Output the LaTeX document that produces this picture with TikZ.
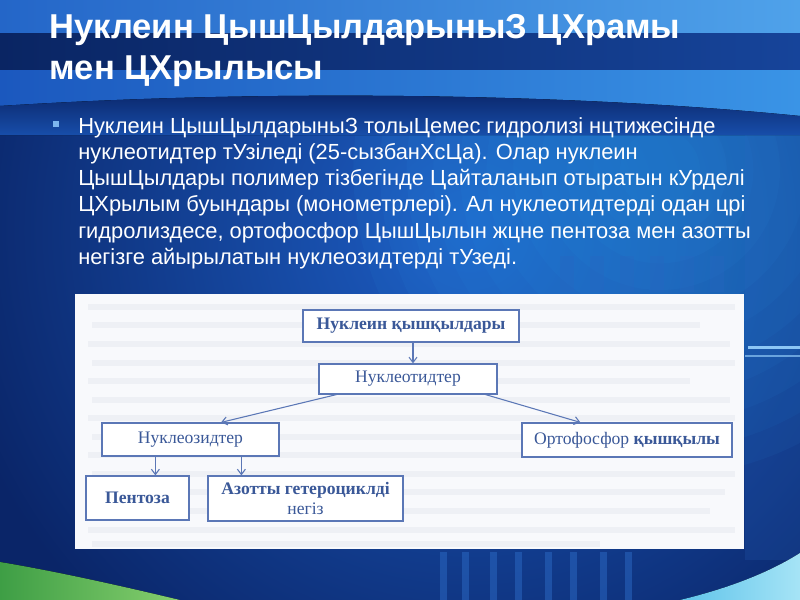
\documentclass[tikz,border=0pt]{standalone}
\usepackage{fontspec}
\setmainfont{Liberation Sans}
\newfontfamily\boxfont{Liberation Serif}
\usetikzlibrary{arrows.meta,calc}
\definecolor{navy}{HTML}{0A2568}
\definecolor{midblue}{HTML}{1D5FC6}
\definecolor{glow}{HTML}{2C9AEA}
\definecolor{boxblue}{HTML}{5B77B6}
\definecolor{boxtext}{HTML}{3A5898}
\definecolor{bulletblue}{HTML}{7DB6EE}
\definecolor{greenA}{HTML}{3E9E45}
\definecolor{greenB}{HTML}{86CF6E}
\definecolor{cyanA}{HTML}{5EC3EA}
\definecolor{cyanB}{HTML}{A6E4F6}
\definecolor{paper}{HTML}{F8F9FC}
\definecolor{ghost}{HTML}{EEF0F5}
\definecolor{topL}{HTML}{2466C8}
\definecolor{topR}{HTML}{4FA2EA}
\definecolor{bandL}{HTML}{0A2563}
\definecolor{bandR}{HTML}{16449A}
\definecolor{swL}{HTML}{1B58BE}
\definecolor{swR}{HTML}{3A94E6}
\definecolor{tech}{HTML}{2A66C0}
\definecolor{streak}{HTML}{8CC6F5}
\begin{document}
\begin{tikzpicture}[x=0.75pt,y=-0.75pt,
  stepbox/.style={draw=boxblue,line width=0.9pt,fill=white,inner sep=0pt,text=boxtext,
    font=\boxfont\fontsize{13.2}{14.5}\selectfont,align=center},
  arr/.style={draw=boxblue,line width=0.8pt,-{Straight Barb[length=4pt,width=6pt]}},
  titletext/.style={anchor=base west,inner sep=0pt,text=white,font=\bfseries\fontsize{25.9}{30}\selectfont},
  bodytext/.style={anchor=base west,inner sep=0pt,text=white,font=\fontsize{16.4}{19}\selectfont}]
\useasboundingbox (0,0) rectangle (800,600);
% ---------- background ----------
\begin{scope}
\clip (0,0) rectangle (800,600);
\fill[navy] (0,0) rectangle (800,600);
\shade[inner color=midblue, outer color=navy] (470,230) circle (400pt);
\foreach \r in {30,50,...,230} {
  \fill[glow,opacity=0.07] (660,170) circle (\r pt);
}
\fill[left color=topL, right color=topR] (0,0) rectangle (800,33);
\fill[left color=bandL, right color=bandR] (0,33) rectangle (800,70);
\fill[left color=swL, right color=swR] (0,70) rectangle (800,118);
\fill[top color=navy, bottom color=midblue!70!navy] (0,106) .. controls (250,90) and (560,92) .. (800,116) -- (800,135) -- (0,135) -- cycle;
\fill[tech,opacity=0.2] (745,135) rectangle (800,560);
\fill[streak] (748,346) rectangle (800,349);
\fill[streak,opacity=0.7] (745,355) rectangle (800,357);
\foreach \xx in {560,590,620,650,680,710} {
  \fill[tech,opacity=0.3] (\xx,256) rectangle (\xx+14,292);
}
\foreach \xx in {440,462,490,515,545,570,600,625} {
  \fill[tech,opacity=0.55] (\xx,552) rectangle (\xx+7,600);
}
\fill[left color=greenA, right color=greenB] (0,562) .. controls (60,572) and (130,588) .. (180,600) -- (0,600) -- cycle;
\fill[left color=cyanA, right color=cyanB] (680,600) .. controls (730,588) and (770,572) .. (800,553) -- (800,600) -- cycle;
\end{scope}
% ---------- title ----------
\node[titletext] (t1) at (49,38) {Нуклеин ЦышЦылдарыныЗ ЦХрамы};
\node[titletext] (t2) at (49,79) {мен ЦХрылысы};
% ---------- body ----------
\node[fill=bulletblue,minimum size=4.5pt,inner sep=0pt] (bullet) at (56,124) {};
\node[bodytext] (l1) at (78,133) {Нуклеин ЦышЦылдарыныЗ толыЦемес гидролизі нцтижесінде};
\node[bodytext] (l2) at (78,159.3) {нуклеотидтер тУзіледі (25-сызбанХсЦа). Олар нуклеин};
\node[bodytext] (l3) at (78,185.6) {ЦышЦылдары полимер тізбегінде Цайталанып отыратын кУрделі};
\node[bodytext] (l4) at (78,211.9) {ЦХрылым буындары (монометрлері). Ал нуклеотидтерді одан црі};
\node[bodytext] (l5) at (78,238.2) {гидролиздесе, ортофосфор ЦышЦылын жцне пентоза мен азотты};
\node[bodytext] (l6) at (78,264.5) {негізге айырылатын нуклеозидтерді тУзеді.};
% ---------- picture ----------
\fill[paper] (75,294) rectangle (744,549);
\foreach \yy/\xa/\xb in {304/88/735,322/92/700,341/88/730,360/92/735,378/88/690,397/92/730,415/88/735,434/92/720,452/88/700,471/92/735,489/88/725,508/92/710,527/88/735,541/92/600} {
  \fill[ghost] (\xa,\yy) rectangle (\xb,\yy+6);
}
\node[stepbox,minimum width=162pt,minimum height=24pt] (b1) at (411,326) {\bfseries Нуклеин қышқылдары};
\node[stepbox,minimum width=133.5pt,minimum height=22.5pt] (b2) at (408,379) {Нуклеотидтер};
\node[stepbox,minimum width=132.75pt,minimum height=24.75pt] (b3) at (190.5,439.5) {Нуклеозидтер};
\node[stepbox,minimum width=157.5pt,minimum height=25.5pt] (b4) at (627,440) {Ортофосфор \textbf{қышқылы}};
\node[stepbox,minimum width=77.25pt,minimum height=33pt] (b5) at (137.5,498) {\bfseries Пентоза};
\node[stepbox,minimum width=146.25pt,minimum height=33.75pt] (b6) at (305.5,498.5) {\textbf{Азотты гетероциклді}\\негіз};
\coordinate (p1) at ([xshift=1.5pt]b1.south);
\coordinate (p2) at ($(b2.south west)+(18,0)$);
\coordinate (q2) at ($(b3.north)+(30.5,0)$);
\coordinate (p3) at ($(b2.south east)+(-12,0)$);
\coordinate (q3) at ($(b4.north west)+(59,0)$);
\coordinate (p5) at ($(b3.south west)+(54,0)$);
\coordinate (p6) at ($(b3.south west)+(140,0)$);
\draw[arr] (p1) -- (p1 |- b2.north);
\draw[arr] (p2) -- (q2);
\draw[arr] (p3) -- (q3);
\draw[arr] (p5) -- (p5 |- b5.north);
\draw[arr] (p6) -- (p6 |- b6.north);
\end{tikzpicture}
\end{document}
